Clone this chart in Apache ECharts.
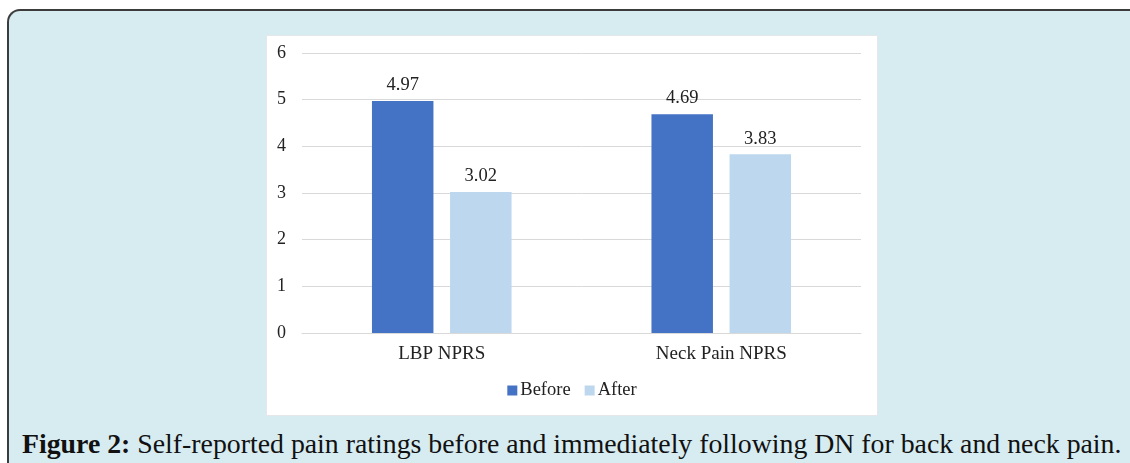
<!DOCTYPE html>
<html>
<head>
<meta charset="utf-8">
<script src="https://cdn.jsdelivr.net/npm/echarts@6/dist/echarts.min.js"></script>
<style>
  html, body { margin: 0; padding: 0; width: 1130px; height: 463px; overflow: hidden; background: #ffffff; }
  #frame {
    position: absolute; left: 7px; top: 9px; width: 1140px; height: 480px;
    background: #d7ecf1; border-left: 2px solid #3c3c3c; border-top: 2px solid #3c3c3c;
    border-top-left-radius: 13px; box-sizing: border-box;
  }
  #box {
    position: absolute; left: 266px; top: 35px; width: 612px; height: 381px;
    background: #ffffff; border: 1px solid #e4e8ea; box-sizing: border-box;
  }
  #chart { position: absolute; left: 0; top: 0; width: 610px; height: 379px; }
  #caption {
    position: absolute; left: 22px; top: 428px; white-space: nowrap;
    font-family: "Liberation Serif", serif; font-size: 23px; color: #111;
  }
</style>
</head>
<body>
<div id="frame"></div>
<div id="box"><div id="chart"></div></div>
<div id="caption"><b>Figure 2:</b> Self-reported pain ratings before and immediately following DN for back and neck pain.</div>
<script>
const categories = ["LBP NPRS", "Neck Pain NPRS"];
const beforeValues = [4.97, 4.69];
const afterValues = [3.02, 3.83];
const yTicks = [0, 1, 2, 3, 4, 5, 6];
const seriesNames = ["Before", "After"];

// fit caption width
(function () {
  const cap = document.getElementById('caption');
  const target = 1100;
  let fs = 23;
  cap.style.fontSize = fs + 'px';
  const w = cap.getBoundingClientRect().width;
  fs = fs * target / w;
  cap.style.fontSize = fs.toFixed(2) + 'px';
})();

const font = '"Liberation Serif", "Times New Roman", serif';
const chart = echarts.init(document.getElementById('chart'), null, { renderer: 'canvas' });
chart.setOption({
  animation: false,
  textStyle: { fontFamily: font },
  grid: { left: 35, right: 16, top: 17, bottom: 82, containLabel: false },
  legend: {
    data: seriesNames,
    bottom: 10,
    left: 'center',
    itemWidth: 10, itemHeight: 10, itemGap: 14,
    icon: 'rect',
    textStyle: { fontFamily: font, fontSize: 18.5, color: '#222', padding: [0, 0, 0, -2] }
  },
  xAxis: {
    type: 'category',
    data: categories,
    axisLine: { lineStyle: { color: '#d9d9d9', width: 1 } },
    axisTick: { show: false },
    axisLabel: { fontFamily: font, fontSize: 19, color: '#222', margin: 12 }
  },
  yAxis: {
    type: 'value',
    min: yTicks[0], max: yTicks[yTicks.length - 1], interval: 1,
    axisLine: { show: false },
    axisTick: { show: false },
    splitLine: { lineStyle: { color: '#d9d9d9', width: 1 } },
    axisLabel: { fontFamily: font, fontSize: 18, color: '#222', margin: 16 }
  },
  series: [
    {
      name: seriesNames[0], type: 'bar', data: beforeValues,
      barWidth: '22%', barGap: '27%',
      itemStyle: { color: '#4472c4' },
      label: { show: true, position: 'top', distance: 6, fontFamily: font, fontSize: 18.5, color: '#222', formatter: p => p.value.toFixed(2) }
    },
    {
      name: seriesNames[1], type: 'bar', data: afterValues,
      barWidth: '22%',
      itemStyle: { color: '#bdd7ee' },
      label: { show: true, position: 'top', distance: 6, fontFamily: font, fontSize: 18.5, color: '#222', formatter: p => p.value.toFixed(2) }
    }
  ]
});
</script>
</body>
</html>
